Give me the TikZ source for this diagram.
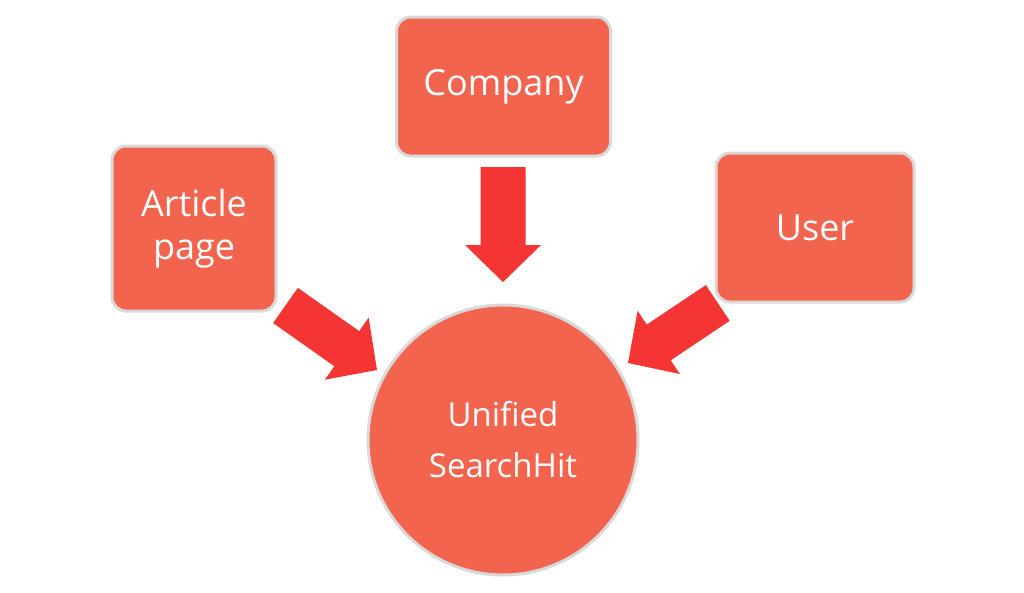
\documentclass[tikz,border=0pt]{standalone}
\usepackage{fontspec}
\setmainfont{Open Sans}
\definecolor{boxfill}{HTML}{F2644E}
\definecolor{boxline}{HTML}{D9D9D9}
\definecolor{arrowred}{HTML}{F53434}
\tikzset{
  srcbox/.style={draw=boxline, line width=3pt, fill=boxfill, rounded corners=14pt,
    text=white, align=center, inner sep=0pt, font=\fontsize{36}{43}\selectfont},
  hitcircle/.style={circle, draw=boxline, line width=3pt, fill=boxfill,
    text=white, align=center, inner sep=0pt, minimum size=270pt, font=\fontsize{33}{51}\selectfont},
  blockarrow/.style={fill=arrowred, draw=none}
}
\begin{document}
\begin{tikzpicture}[x=1pt, y=-1pt]
\useasboundingbox (0,0) rectangle (1024,592);
\node[srcbox, minimum width=214pt, minimum height=139pt] (company) at (503.5,86.5) {Company};
\node[srcbox, minimum width=164pt, minimum height=165pt] (article) at (194,228.5) {Article\\page};
\node[srcbox, minimum width=198pt, minimum height=149pt] (user) at (815,227.5) {User};
\node[hitcircle] (hit) at (503,440) {Unified\\SearchHit};
% block arrows: tip at origin, pointing along +x
\coordinate (tipC) at (503,282);
\coordinate (tipA) at (377,370);
\coordinate (tipU) at (628,363);
\begin{scope}[shift={(tipC)}, rotate=-90]
  \fill[blockarrow] (0,0) -- (-37,38) -- (-37,22.5) -- (-115,22.5) -- (-115,-22.5) -- (-37,-22.5) -- (-37,-38) -- cycle;
\end{scope}
\begin{scope}[shift={(tipA)}, rotate=-35.2]
  \fill[blockarrow] (0,0) -- (-37,38) -- (-37,21.5) -- (-112,21.5) -- (-112,-21.5) -- (-37,-21.5) -- (-37,-38) -- cycle;
\end{scope}
\begin{scope}[shift={(tipU)}, rotate=-146.2]
  \fill[blockarrow] (0,0) -- (-37,38) -- (-37,21.5) -- (-108,21.5) -- (-108,-21.5) -- (-37,-21.5) -- (-37,-38) -- cycle;
\end{scope}
\end{tikzpicture}
\end{document}
